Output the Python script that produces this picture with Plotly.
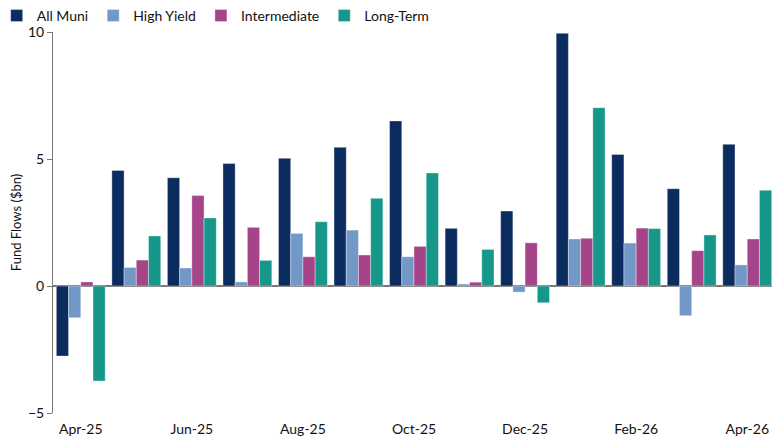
import plotly.graph_objects as go

months = ["Apr-25", "May-25", "Jun-25", "Jul-25", "Aug-25", "Sep-25", "Oct-25",
          "Nov-25", "Dec-25", "Jan-26", "Feb-26", "Mar-26", "Apr-26"]

all_muni = [-2.76, 4.55, 4.26, 4.82, 5.03, 5.46, 6.50, 2.27, 2.95, 9.95, 5.18, 3.83, 5.58]
high_yield = [-1.25, 0.73, 0.71, 0.16, 2.07, 2.20, 1.15, 0.08, -0.24, 1.85, 1.69, -1.17, 0.83]
intermediate = [0.16, 1.02, 3.56, 2.31, 1.15, 1.22, 1.56, 0.15, 1.70, 1.88, 2.28, 1.39, 1.85]
long_term = [-3.74, 1.97, 2.68, 1.01, 2.53, 3.45, 4.45, 1.44, -0.66, 7.02, 2.26, 2.01, 3.77]

series = [
    ("All Muni", all_muni, "#0b2c5f"),
    ("High Yield", high_yield, "#7198c6"),
    ("Intermediate", intermediate, "#a54488"),
    ("Long-Term", long_term, "#16978a"),
]

fig = go.Figure()
for name, vals, color in series:
    fig.add_trace(go.Bar(
        x=months, y=vals, name=name,
        marker=dict(color=color, line=dict(color="rgba(255,255,255,0.6)", width=0.6)),
    ))

# page body has an 8px margin, so offsets below are shifted by that
fig.update_layout(
    width=780, height=440,
    margin=dict(l=45, r=13, t=24, b=35, autoexpand=False),
    paper_bgcolor="white", plot_bgcolor="white",
    barmode="group", bargap=0.12, bargroupgap=0,
    font=dict(family="Lato, Noto Sans, sans-serif", size=14, color="#111"),
    legend=dict(orientation="h", x=-0.078, xanchor="left", y=1.042, yanchor="middle",
                font=dict(size=14), itemwidth=30, traceorder="normal",
                bgcolor="rgba(0,0,0,0)"),
    showlegend=True,
)
fig.update_xaxes(
    type="category", categoryorder="array", categoryarray=months,
    tickvals=months[::2], showline=False, showgrid=False, ticks="",
    tickfont=dict(size=14), ticklabelstandoff=6,
)
fig.update_yaxes(
    range=[-5, 10], tickvals=[-5, 0, 5, 10], showgrid=False,
    showline=True, linecolor="#777", linewidth=1,
    ticks="outside", ticklen=5, tickcolor="#777",
    zeroline=True, zerolinecolor="#777", zerolinewidth=1.5,
    title=dict(text="Fund Flows ($bn)", font=dict(size=13), standoff=6),
    tickfont=dict(size=14),
)

fig.write_html("out.html")
